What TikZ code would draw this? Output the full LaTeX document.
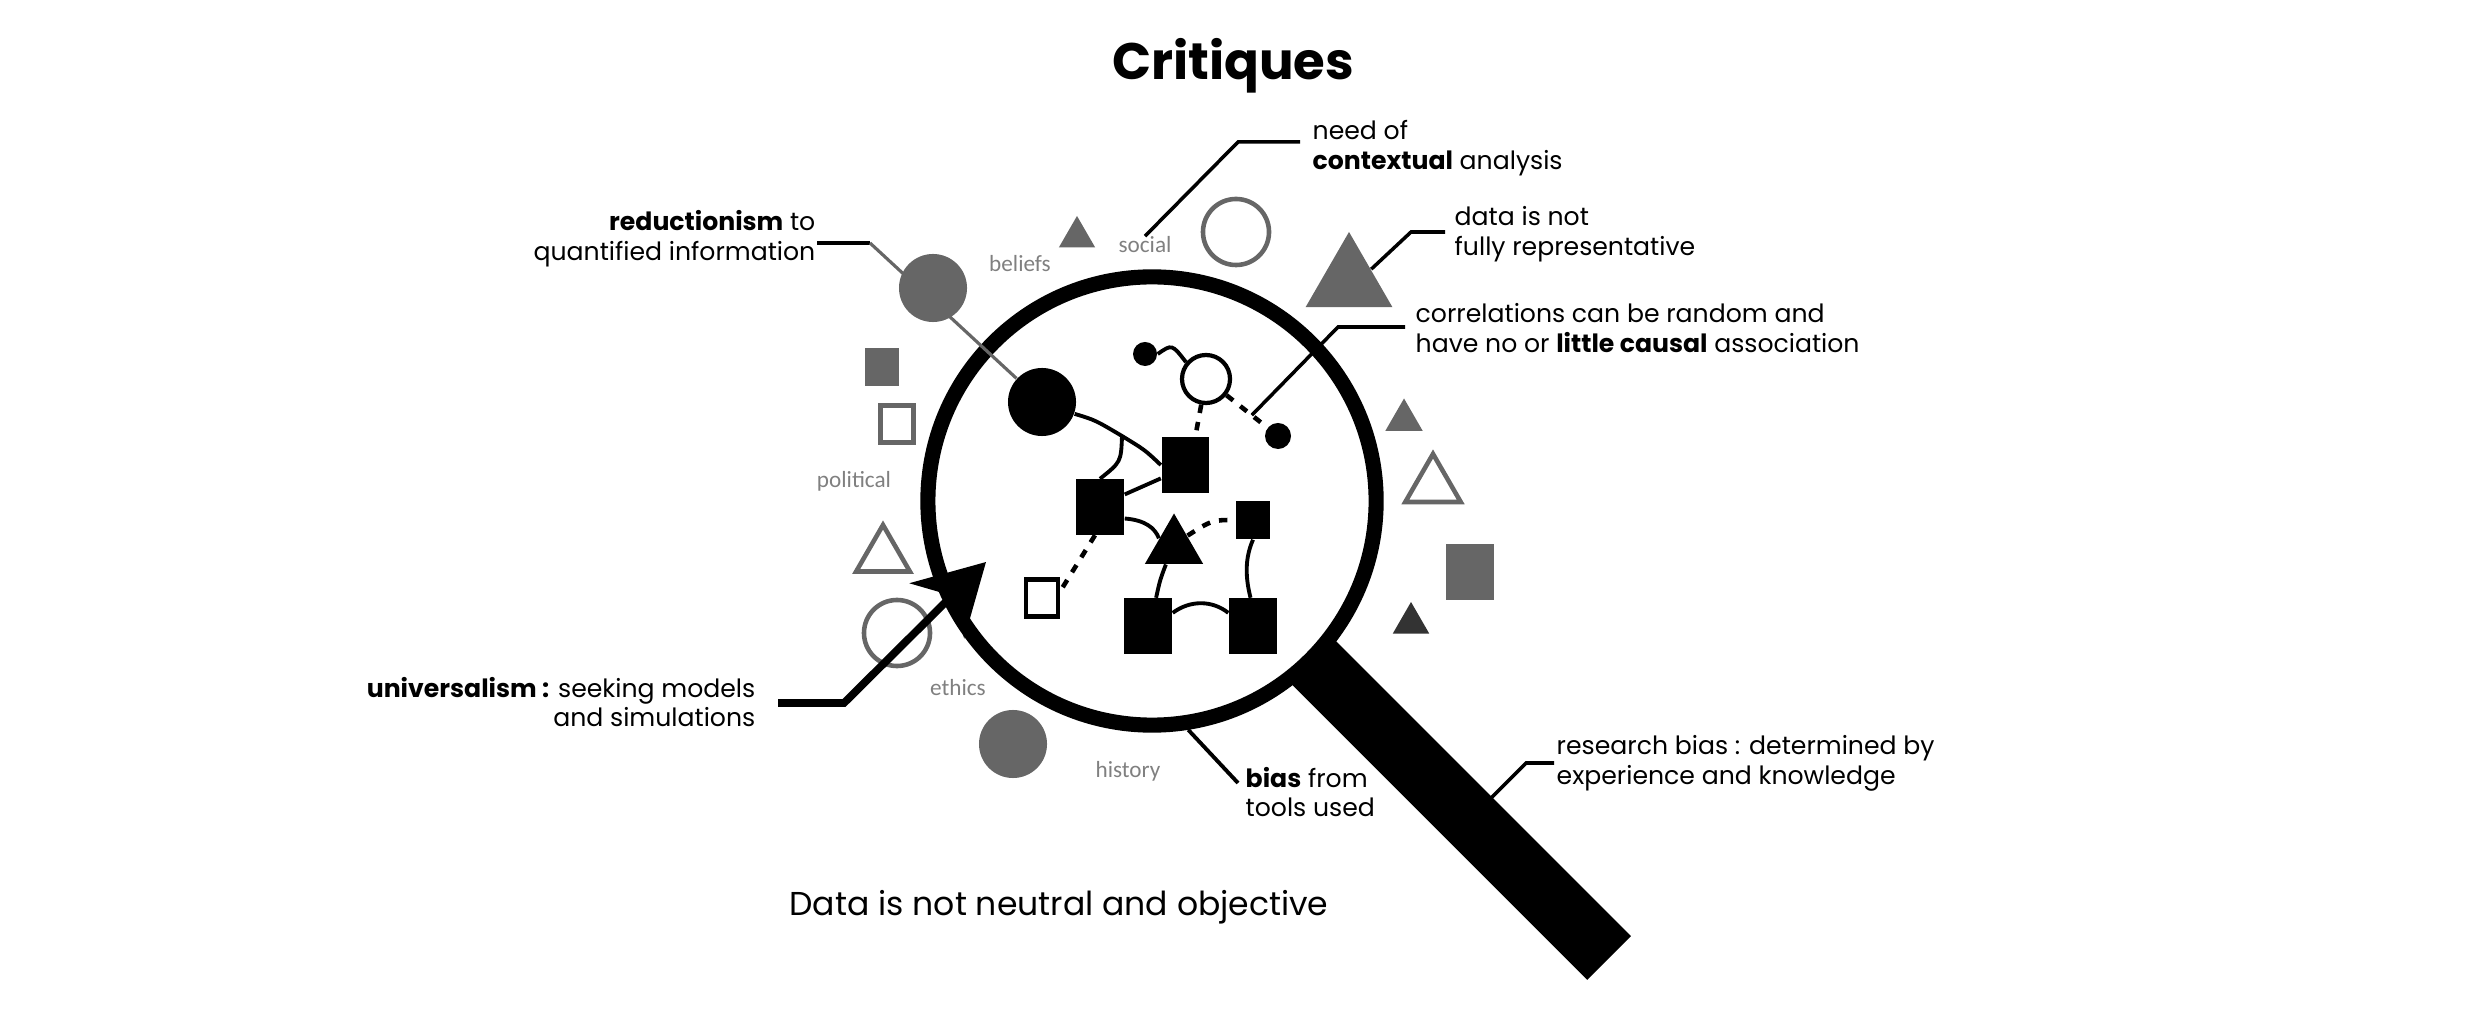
\documentclass[tikz,border=0pt]{standalone}
\usepackage{fontspec}
\setmainfont{Poppins}
\newfontfamily\themefont{Carlito}
\usetikzlibrary{arrows.meta,shapes.geometric}

\definecolor{shapegray}{HTML}{666666}
\definecolor{shadedark}{HTML}{333333}
\definecolor{themegray}{HTML}{808080}

\begin{document}
\begin{tikzpicture}[
    x=0.01cm, y=-0.01cm,
    font=\fontsize{7.15}{8.5}\selectfont,
    gdot/.style={circle, fill=shapegray, inner sep=0pt, minimum size=#1},
    gring/.style={circle, draw=shapegray, line width=1.3pt, inner sep=0pt, minimum size=#1},
    gbox/.style={rectangle, fill=shapegray, inner sep=0pt},
    gobox/.style={rectangle, draw=shapegray, line width=1.3pt, inner sep=0pt},
    gtri/.style={regular polygon, regular polygon sides=3, fill=shapegray, inner sep=0pt, minimum size=#1},
    gotri/.style={regular polygon, regular polygon sides=3, draw=shapegray, line width=1.3pt, inner sep=0pt, minimum size=#1},
    bdot/.style={circle, fill=black, inner sep=0pt, minimum size=#1},
    wring/.style={circle, draw=black, fill=white, line width=1.2pt, inner sep=0pt, minimum size=#1},
    bbox/.style={rectangle, fill=black, inner sep=0pt},
    wbox/.style={rectangle, draw=black, fill=white, line width=1.2pt, inner sep=0pt},
    btri/.style={regular polygon, regular polygon sides=3, fill=black, inner sep=0pt, minimum size=#1},
    theme/.style={font=\themefont\fontsize{6.6}{8}\selectfont, text=themegray, inner sep=0pt},
    lbl/.style={inner sep=0pt},
    link/.style={line width=1.1pt},
    weak/.style={line width=1.3pt, dash pattern=on 2.4pt off 2.6pt},
    lead/.style={line width=1pt},
  ]
  \useasboundingbox (0,0) rectangle (2479,1013);

  %--- Titles ---
  \node[font=\fontsize{14.6}{18}\selectfont\bfseries] (title) at (1233,66) {Critiques};
  \node[font=\fontsize{9.4}{11}\selectfont] (claim) at (1059,907) {Data is not neutral and objective};

  %--- Themes around the lens ---
  \node[gdot=6.8mm] (gcircA) at (933,288) {};
  \node[gbox, minimum width=3.4mm, minimum height=3.7mm] (gboxA) at (882,367) {};
  \node[gobox, minimum width=3.3mm, minimum height=3.7mm] (oboxA) at (897,424) {};
  \node[theme] (political) at (854,481) {political};
  \node[gotri=6.2mm] (otriA) at (883,556) {};
  \node[gring=6.6mm] (oringA) at (897,633) {};
  \node[theme] (ethics) at (958,688) {ethics};
  \node[gdot=6.8mm] (gcircB) at (1013,744) {};
  \node[theme] (history) at (1128,771) {history};
  \node[theme] (beliefs) at (1020,264) {beliefs};
  \node[gtri=4.2mm] (gtriA) at (1077,237) {};
  \node[theme] (social) at (1145,245) {social};
  \node[gring=6.6mm] (oringB) at (1236,232) {};
  \node[gtri=10mm] (gtriB) at (1349,282) {};
  \node[gtri=4.3mm] (gtriC) at (1404,420) {};
  \node[gotri=6.4mm] (otriB) at (1433,486) {};
  \node[gbox, minimum width=4.8mm, minimum height=5.5mm] (gboxB) at (1470,572) {};
  \node[gtri=4.2mm, fill=shadedark] (gtriD) at (1411,623) {};

  %--- Lens ---
  \draw[line width=17.6pt] (1152,501) ++(155,155) -- ++(302,302) coordinate[pos=0.54] (grip);
  \node[circle, draw, line width=4.3pt, inner sep=0pt, minimum size=44.8mm] (lens) at (1152,501) {};

  %--- Data inside the lens ---
  \node[bdot=6.8mm] (hub) at (1042,402) {};
  \node[bdot=2.4mm] (seed) at (1145,354) {};
  \node[wring=4.8mm] (open) at (1206,379) {};
  \node[bdot=2.6mm] (loose) at (1278,436) {};
  \node[bbox, minimum width=4.7mm, minimum height=5.5mm] (upper) at (1185,465) {};
  \node[bbox, minimum width=4.8mm, minimum height=5.5mm] (mid) at (1100,507) {};
  \node[btri=6.7mm] (apex) at (1174,547) {};
  \node[bbox, minimum width=3.4mm, minimum height=3.8mm] (small) at (1253,520) {};
  \node[wbox, minimum width=3.2mm, minimum height=3.7mm] (empty) at (1042,598) {};
  \node[bbox, minimum width=4.8mm, minimum height=5.5mm] (baseA) at (1148,626) {};
  \node[bbox, minimum width=4.8mm, minimum height=5.5mm] (baseB) at (1253,626) {};

  \coordinate (fork) at (1122,436);
  \draw[link] (hub.-20) .. controls (1095,420) .. (fork) .. controls (1145,450) .. (upper.west);
  \draw[link] (fork) .. controls (1121,462) .. (mid.north);
  \draw[link] (mid.27) -- (upper.-151);
  \draw[link] (seed.east) .. controls (1172,344) .. (open.140);
  \draw[weak] (open) -- (upper.70);
  \draw[weak] (open) -- (loose) coordinate[pos=0.62] (chance);
  \draw[link] (mid.-25) .. controls (1145,520) and (1155,528) .. (apex.150);
  \draw[weak] (apex.40) .. controls (1212,520) .. (small.west);
  \draw[weak] (mid.-100) -- (empty.20);
  \draw[link] (apex.-115) .. controls (1160,580) .. (baseA.74);
  \draw[link] (small.south) .. controls (1244,560) and (1246,580) .. (baseB.95);
  \draw[link] (baseA.28) .. controls (1190,600) and (1212,600) .. (baseB.152);

  %--- Critiques ---
  \node[lbl, anchor=east, align=right] (reduc) at (816,239) {\textbf{reductionism} to\\quantified information};
  \node[lbl, anchor=west, align=left] (context) at (1312,148) {need of\\\textbf{contextual} analysis};
  \node[lbl, anchor=west, align=left] (repr) at (1454,234) {data is not\\fully representative};
  \node[lbl, anchor=west, align=left] (corr) at (1415,328) {correlations can be random and\\have no or \textbf{little causal} association};
  \node[lbl, anchor=east, align=right] (univ) at (756,702) {\textbf{universalism :} seeking models\\and simulations};
  \node[lbl, anchor=west, align=left] (tools) at (1245,792) {\textbf{bias} from\\tools used};
  \node[lbl, anchor=west, align=left] (research) at (1556,763) {research bias : determined by\\experience and knowledge};

  \draw[lead, line width=1.3pt] ([shift={(1,4)}]reduc.east) -- ++(53,0) coordinate (rk);
  \draw[line width=0.9pt, shapegray] (rk) -- (hub);
  \draw[lead] ([shift={(-12,-6)}]context.west) -- ++(-62,0) -- (social.north);
  \draw[lead] ([shift={(-9,-2)}]repr.west) -- ++(-34,0) -- (gtriB.30);
  \draw[lead] ([shift={(-10,-1)}]corr.west) -- ++(-67,0) -- (chance);
  \draw[lead, line width=1.1pt] (lens.-81) -- ([shift={(-7,-9)}]tools.west);
  \draw[lead] ([shift={(-2,0)}]research.west) -- ++(-28,0) -- (grip);
  \draw[line width=2.2pt, -{Stealth[length=19.6pt, width=21.9pt, inset=6pt]}]
    ([shift={(22,1)}]univ.east) -- ++(66,0) -- (986,562);
\end{tikzpicture}
\end{document}
